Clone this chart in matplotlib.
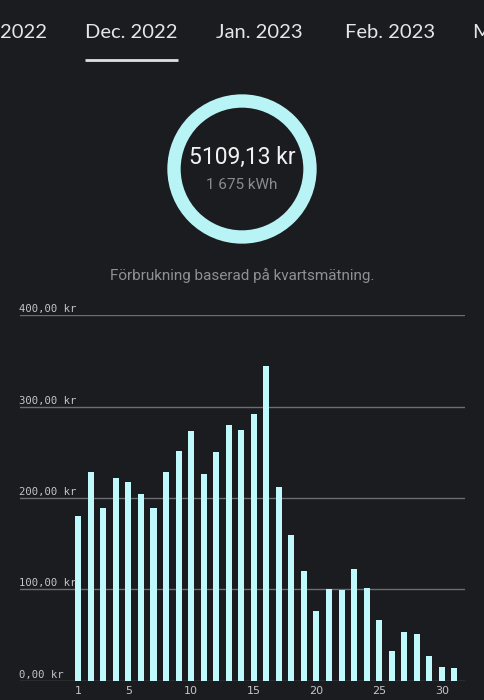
import matplotlib.pyplot as plt
from matplotlib.patches import Circle

# Daily cost (kr) for December 2022
days = list(range(1, 32))
costs = [
    180, 228, 189, 222, 218, 204, 189, 228, 251, 273,
    226, 250, 280, 274, 292, 345, 212, 160, 120, 76,
    100, 99, 122, 102, 66, 33, 53, 51, 27, 15, 14,
]
x_ticks = [1, 5, 10, 15, 20, 25, 30]
y_ticks = [0, 100, 200, 300, 400]
y_tick_labels = ["0,00 kr", "100,00 kr", "200,00 kr", "300,00 kr", "400,00 kr"]

tabs = ["2022", "Dec. 2022", "Jan. 2023", "Feb. 2023", "M"]
tab_x = [0, 85, 216, 345, 472]
total_cost = "5109,13 kr"
total_energy = "1 675 kWh"
note = "Förbrukning baserad på kvartsmätning."

BG = "#1a1c20"
BAR = "#bff9fc"
GRID = "#6b6d70"

W, H = 484, 700

fig = plt.figure(figsize=(W / 100, H / 100), dpi=100, facecolor=BG)

# overlay in pixel coordinates for the header part
top = fig.add_axes([0, 0, 1, 1])
top.set_xlim(0, W)
top.set_ylim(H, 0)
top.axis("off")
top.set_facecolor(BG)

for label, x in zip(tabs, tab_x):
    top.text(x, 33, label, color="#e6e6e6", fontsize=14.5, family="Lato",
             va="center", ha="left", clip_on=True)
top.plot([85, 178], [60, 60], color="#e0e0e0", lw=2, solid_capstyle="butt")

ring = Circle((242, 169), 68, fill=False, edgecolor="#b8f4f6", lw=9.6)
top.add_patch(ring)
top.text(242, 157, total_cost, color="#f2f2f2", fontsize=16.5, family="Roboto",
         ha="center", va="center")
top.text(242, 185, total_energy, color="#8a8b8d", fontsize=11, family="Roboto",
         ha="center", va="center")
top.text(242, 276, note, color="#8e9093", fontsize=11, family="Roboto",
         ha="center", va="center")

# bar chart
ax = fig.add_axes([20 / W, (H - 680.7) / H, (465 - 20) / W, (680.7 - 315.3) / H])
ax.set_facecolor("none")
ax.bar(days, costs, width=0.48, color=BAR, zorder=3)
ax.set_xlim(-3.65, 31.85)
ax.set_ylim(0, 400)

for v in y_ticks:
    ax.axhline(v, color=GRID, lw=1, zorder=1)
for v, lab in zip(y_ticks, y_tick_labels):
    ax.text(-0.002, v + 1, lab, transform=ax.get_yaxis_transform(), color="#c4c6c8",
            fontsize=7.6, family="DejaVu Sans Mono", ha="left", va="bottom")

ax.set_yticks([])
ax.set_xticks(x_ticks)
ax.tick_params(axis="x", length=0, colors="#c4c6c8", labelsize=8, pad=4)
for s in ax.spines.values():
    s.set_visible(False)

fig.savefig("out.png", dpi=100, facecolor=BG)
